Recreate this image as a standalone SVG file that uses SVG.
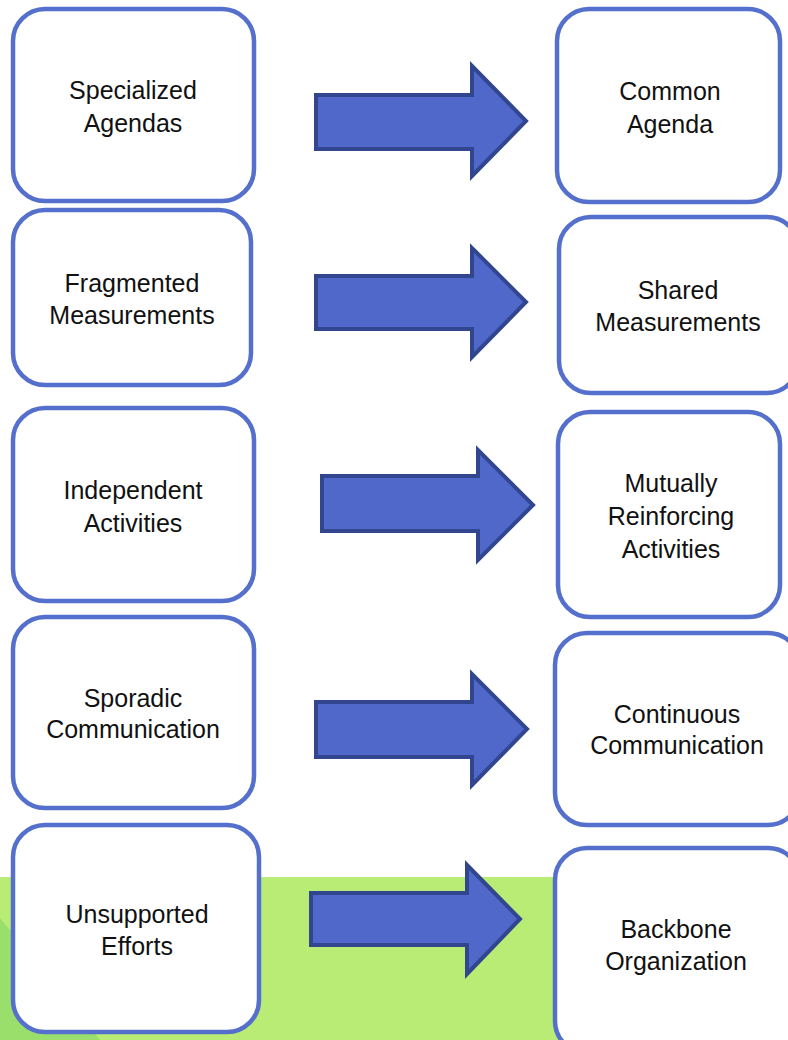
<svg xmlns="http://www.w3.org/2000/svg" width="788" height="1040" viewBox="0 0 788 1040">
<style>
.box{fill:#ffffff;stroke:#5470CC;stroke-width:4.5}
.arr{fill:#4F68C9;stroke:#31468F;stroke-width:4;stroke-linejoin:miter}
.t{font-family:"Liberation Sans",Arial,sans-serif;font-size:25px;fill:#111111;text-anchor:middle}
</style>
<rect x="0" y="0" width="788" height="1040" fill="#ffffff"/>
<g id="background">
<rect x="0" y="877" width="600" height="163" fill="#B8EC74"/>
<polygon points="0,918 100,1040 0,1040" fill="#9ADF6C"/>
</g>
<g id="connectors">
<polygon class="arr" points="316,95 472,95 472,66 526,121 472,176 472,149 316,149"/>
<polygon class="arr" points="316,276 472,276 472,248 526,302 472,357 472,329 316,329"/>
<polygon class="arr" points="322,476 478,476 478,450 533,505 478,560 478,531 322,531"/>
<polygon class="arr" points="316,702 472,702 472,674 527,729 472,785 472,757 316,757"/>
<polygon class="arr" points="311,893 467,893 467,865 520,919 467,974 467,945 311,945"/>
</g>
<g id="n1"><rect class="box" x="13" y="9" width="241" height="192" rx="32"/><text class="t" x="133" y="99">Specialized</text><text class="t" x="133" y="132">Agendas</text></g>
<g id="n2"><rect class="box" x="13" y="210" width="238" height="175" rx="32"/><text class="t" x="132" y="292">Fragmented</text><text class="t" x="132" y="324">Measurements</text></g>
<g id="n3"><rect class="box" x="13" y="408" width="241" height="193" rx="32"/><text class="t" x="133" y="499">Independent</text><text class="t" x="133" y="532">Activities</text></g>
<g id="n4"><rect class="box" x="13" y="617" width="241" height="191" rx="32"/><text class="t" x="133" y="707">Sporadic</text><text class="t" x="133" y="738">Communication</text></g>
<g id="n5"><rect class="box" x="13" y="825" width="246" height="207" rx="32"/><text class="t" x="137" y="923">Unsupported</text><text class="t" x="137" y="955">Efforts</text></g>
<g id="n6"><rect class="box" x="557" y="9" width="223" height="193" rx="32"/><text class="t" x="670" y="100">Common</text><text class="t" x="670" y="133">Agenda</text></g>
<g id="n7"><rect class="box" x="559" y="217" width="240" height="176" rx="32"/><text class="t" x="678" y="299">Shared</text><text class="t" x="678" y="331">Measurements</text></g>
<g id="n8"><rect class="box" x="558" y="412" width="222" height="205" rx="32"/><text class="t" x="671" y="492">Mutually</text><text class="t" x="671" y="525">Reinforcing</text><text class="t" x="671" y="558">Activities</text></g>
<g id="n9"><rect class="box" x="555" y="633" width="245" height="192" rx="32"/><text class="t" x="677" y="723">Continuous</text><text class="t" x="677" y="754">Communication</text></g>
<g id="n10"><rect class="box" x="555" y="848" width="245" height="205" rx="32"/><text class="t" x="676" y="938">Backbone</text><text class="t" x="676" y="970">Organization</text></g>
</svg>
